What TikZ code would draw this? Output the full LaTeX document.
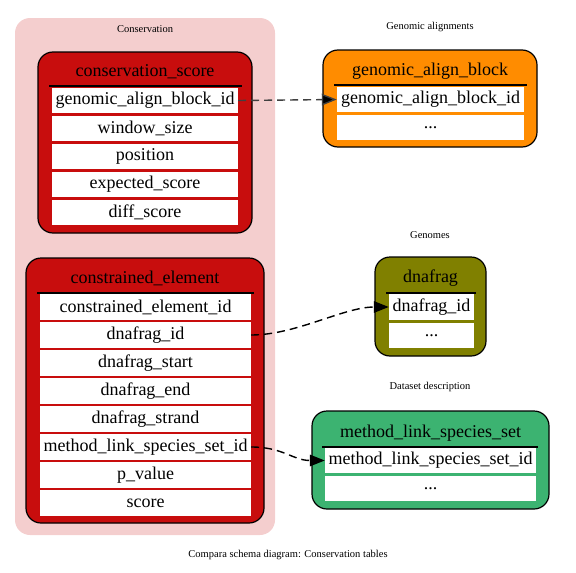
\documentclass[tikz,border=0pt]{standalone}
\usepackage{fontspec}
\setmainfont{Liberation Serif}
\usetikzlibrary{arrows.meta}
\definecolor{tred}{RGB}{200,13,13}
\definecolor{tpink}{RGB}{244,206,206}
\definecolor{torange}{RGB}{255,140,0}
\definecolor{tolive}{RGB}{128,128,0}
\definecolor{tgreen}{RGB}{60,179,113}
\tikzset{
  tbl/.style={draw=black, line width=1.2pt, rounded corners=15pt, inner sep=0pt},
  cell/.style={fill=white, inner sep=0pt, font=\fontsize{18}{20}\selectfont},
  ttl/.style={inner sep=0pt, font=\fontsize{18}{20}\selectfont},
  sep/.style={draw=black, line width=1.2pt},
  lbl/.style={inner sep=0pt, font=\fontsize{10.5}{12}\selectfont},
  fk/.style={dash pattern=on 8pt off 5pt, line width=1.4pt, -{Triangle[length=15pt,width=11.5pt,fill=black]}}
}
\begin{document}
\begin{tikzpicture}[x=1pt,y=-1pt]
\useasboundingbox (0,0) rectangle (576,573);
% cluster
\node[fill=tpink, rounded corners=15pt, minimum width=260pt, minimum height=517pt, inner sep=0pt] (cluster) at (145,276.5) {};
\node[lbl] (lcons) at (145,29) {Conservation};
\node[lbl] (lgen) at (430,27) {Genomic alignments};
\node[lbl] (lgenomes) at (430,235) {Genomes};
\node[lbl] (ldata) at (430,387) {Dataset description};
\node[lbl] (cap) at (288,555) {Compara schema diagram: Conservation tables};

% conservation_score
\node[tbl, fill=tred, minimum width=214pt, minimum height=181pt] (cstab) at (145,142.5) {};
\node[ttl] (cst) at (145,72) {conservation\_score};
\coordinate (csl1) at (49,86); \coordinate (csl2) at (242,86);
\draw[sep] (csl1) -- (csl2);
\foreach \n/\y/\t in {1/100.5/genomic\_align\_block\_id, 2/128.5/window\_size, 3/156.5/position, 4/184.5/expected\_score, 5/212.5/diff\_score}
  \node[cell, minimum width=186pt, minimum height=25pt] (cs\n) at (145,\y) {\t};

% constrained_element
\node[tbl, fill=tred, minimum width=238pt, minimum height=265pt] (cetab) at (145,390.5) {};
\node[ttl] (cet) at (145,278) {constrained\_element};
\coordinate (cel1) at (37,293); \coordinate (cel2) at (254,293);
\draw[sep] (cel1) -- (cel2);
\foreach \n/\y/\t in {1/307/constrained\_element\_id, 2/335/dnafrag\_id, 3/363/dnafrag\_start, 4/391/dnafrag\_end, 5/419/dnafrag\_strand, 6/447/method\_link\_species\_set\_id, 7/475/p\_value, 8/503/score}
  \node[cell, minimum width=211pt, minimum height=26pt] (ce\n) at (145.5,\y) {\t};

% genomic_align_block
\node[tbl, fill=torange, minimum width=214pt, minimum height=97pt] (gabtab) at (430,98.5) {};
\node[ttl] (gabt) at (430,71) {genomic\_align\_block};
\coordinate (gabl1) at (334,85); \coordinate (gabl2) at (527,85);
\draw[sep] (gabl1) -- (gabl2);
\node[cell, minimum width=187pt, minimum height=25.5pt] (gab1) at (430.5,99.5) {genomic\_align\_block\_id};
\node[cell, minimum width=187pt, minimum height=25.5pt] (gab2) at (430.5,127.5) {...};

% dnafrag
\node[tbl, fill=tolive, minimum width=111pt, minimum height=99pt] (dftab) at (430.5,306.5) {};
\node[ttl] (dft) at (430.5,278) {dnafrag};
\coordinate (dfl1) at (386,293); \coordinate (dfl2) at (476,293);
\draw[sep] (dfl1) -- (dfl2);
\node[cell, minimum width=85pt, minimum height=26pt] (df1) at (431.5,307) {dnafrag\_id};
\node[cell, minimum width=85pt, minimum height=25.5pt] (df2) at (431.5,335.5) {...};

% method_link_species_set
\node[tbl, fill=tgreen, minimum width=237pt, minimum height=98pt] (mltab) at (430.5,460) {};
\node[ttl] (mlt) at (430.5,433) {method\_link\_species\_set};
\coordinate (mll1) at (322,447); \coordinate (mll2) at (538,447);
\draw[sep] (mll1) -- (mll2);
\node[cell, minimum width=211pt, minimum height=25.5pt] (ml1) at (430.5,460.5) {method\_link\_species\_set\_id};
\node[cell, minimum width=211pt, minimum height=25.5pt] (ml2) at (430.5,488.5) {...};

% edges
\draw[fk, draw=black!75] (cs1.east) -- (gab1.west);
\draw[fk] (ce2.east) .. controls +(45,0) and +(-45,0) .. (df1.west);
\draw[fk] (ce6.east) .. controls +(32,0) and +(-32,0) .. (ml1.west);
\end{tikzpicture}
\end{document}
